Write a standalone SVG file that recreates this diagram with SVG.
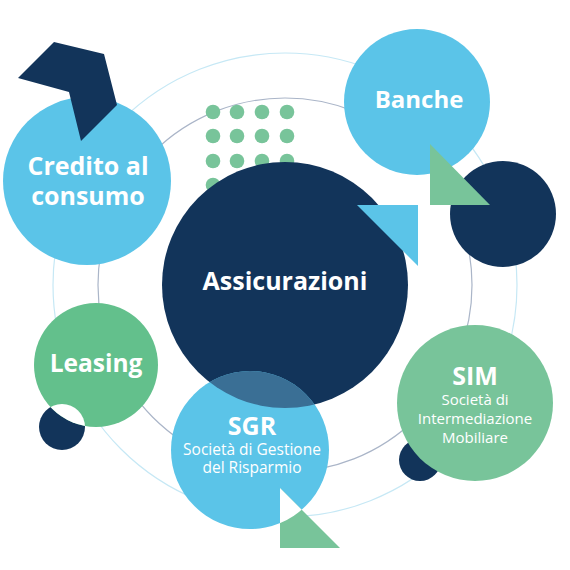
<svg xmlns="http://www.w3.org/2000/svg" width="570" height="570" viewBox="0 0 570 570">
<style>
.t{font-family:"Open Sans","Noto Sans","Liberation Sans",sans-serif;fill:#ffffff;text-anchor:middle}
.b{font-weight:700}
.s{font-weight:400;font-size:15px}
.navy{fill:#12345a}
.lb{fill:#5bc4e8}
.gr{fill:#78c49a}
.dot{fill:#78c49a}
</style>
<defs>
<clipPath id="cMain"><circle cx="285" cy="285" r="123"/></clipPath>
<clipPath id="cSgr"><circle cx="250" cy="450" r="79"/></clipPath>
<clipPath id="cSmall"><circle cx="62" cy="427" r="23"/></clipPath>
</defs>
<rect width="570" height="570" fill="#ffffff"/>
<g id="connectors" fill="none">
<circle cx="285" cy="285" r="232" stroke="#c6e8f5" stroke-width="1.2"/>
<circle cx="285" cy="285" r="187" stroke="#aab5c8" stroke-width="1.2"/>
</g>
<g id="dots">
<circle class="dot" cx="213" cy="112" r="7.3"/><circle class="dot" cx="237" cy="112" r="7.3"/><circle class="dot" cx="262" cy="112" r="7.3"/><circle class="dot" cx="287" cy="112" r="7.3"/>
<circle class="dot" cx="213" cy="136" r="7.3"/><circle class="dot" cx="237" cy="136" r="7.3"/><circle class="dot" cx="262" cy="136" r="7.3"/><circle class="dot" cx="287" cy="136" r="7.3"/>
<circle class="dot" cx="213" cy="161" r="7.3"/><circle class="dot" cx="237" cy="161" r="7.3"/><circle class="dot" cx="262" cy="161" r="7.3"/><circle class="dot" cx="287" cy="161" r="7.3"/>
<circle class="dot" cx="213" cy="185" r="7.3"/><circle class="dot" cx="237" cy="185" r="7.3"/><circle class="dot" cx="262" cy="185" r="7.3"/><circle class="dot" cx="287" cy="185" r="7.3"/>
</g>
<g id="credito">
<circle class="lb" cx="87" cy="181" r="84"/>
<polygon class="navy" points="18,78 54,42 104,54 117,105 81,141 69,92"/>
<text class="t b" x="88" y="175" font-size="25">Credito al</text>
<text class="t b" x="88" y="205" font-size="25">consumo</text>
</g>
<g id="assicurazioni">
<circle class="navy" cx="285" cy="285" r="123"/>
<text class="t b" x="285" y="290" font-size="25">Assicurazioni</text>
</g>
<g id="banche">
<circle class="navy" cx="503" cy="214" r="53"/>
<circle class="lb" cx="417" cy="102" r="73"/>
<polygon class="gr" points="430,144 430,205 490,205"/>
<polygon class="lb" points="357,205 418,205 418,266"/>
<text class="t b" x="419" y="108" font-size="24">Banche</text>
</g>
<g id="leasing">
<circle class="navy" cx="62" cy="427" r="23"/>
<circle cx="96" cy="365" r="62" fill="#63c08c"/>
<circle cx="96" cy="365" r="62" fill="#ffffff" clip-path="url(#cSmall)"/>
<text class="t b" x="96" y="372" font-size="24.5">Leasing</text>
</g>
<g id="sgr">
<circle class="lb" cx="250" cy="450" r="79"/>
<circle cx="250" cy="450" r="79" fill="#3a6f95" clip-path="url(#cMain)"/>
<polygon class="gr" points="280,488 280,548 340,548"/>
<polygon fill="#ffffff" points="280,488 280,548 340,548" clip-path="url(#cSgr)"/>
<text class="t b" x="252" y="435" font-size="25">SGR</text>
<text class="t s" x="252" y="455" style="font-size:15.5px">Società di Gestione</text>
<text class="t s" x="252" y="473" style="font-size:15.5px">del Risparmio</text>
</g>
<g id="sim">
<circle class="navy" cx="420" cy="460" r="21"/>
<circle class="gr" cx="475" cy="403" r="78"/>
<text class="t b" x="475" y="385" font-size="25">SIM</text>
<text class="t s" x="475" y="405">Società di</text>
<text class="t s" x="475" y="424">Intermediazione</text>
<text class="t s" x="475" y="443">Mobiliare</text>
</g>
</svg>
